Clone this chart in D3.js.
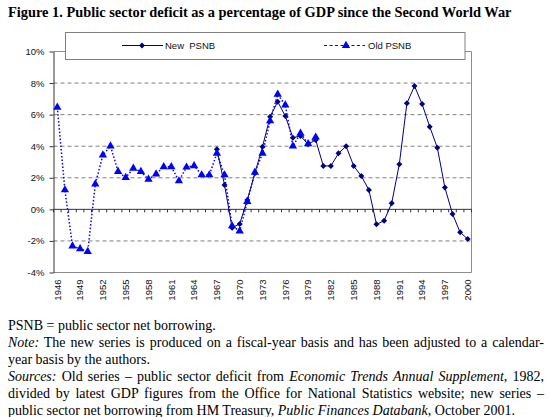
<!DOCTYPE html>
<html>
<head>
<meta charset="utf-8">
<script src="https://d3js.org/d3.v7.min.js"></script>
<style>
  body { margin: 0; background: #fff; }
  .chart text { font-family: "Liberation Sans", Arial, sans-serif; font-size: 9.5px; fill: #111; }
  .serif { font-family: "Liberation Serif", "Times New Roman", serif; fill: #000; }
</style>
</head>
<body>
<svg width="550" height="417"></svg>
<script>
// years 1946..2000
var years = d3.range(1946, 2001);
// old series (triangles), 1946-1980
var oldYears = d3.range(1946, 1981);
var oldPSNB = [6.47, 1.23, -2.32, -2.5, -2.68, 1.6, 3.44, 4.01, 2.39, 2.01,
  2.6, 2.39, 1.9, 2.24, 2.7, 2.7, 1.8, 2.67, 2.76, 2.18,
  2.18, 3.55, 2.18, -1.05, -1.37, 0.49, 2.35, 3.55, 5.6, 7.29,
  6.61, 4.01, 4.82, 4.15, 4.57];
// new series (diamonds), 1967-2000
var newYears = d3.range(1967, 2001);
var newPSNB = [3.8, 1.55, -1.16, -0.92, 0.6, 2.29, 3.97, 5.87, 6.82, 5.91,
  4.54, 4.65, 4.12, 4.4, 2.75, 2.75, 3.55, 4.0, 2.75, 2.11,
  1.23, -0.95, -0.72, 0.39, 2.86, 6.72, 7.81, 6.67, 5.24, 3.91,
  1.38, -0.29, -1.45, -1.88];
var yTicks = [-4, -2, 0, 2, 4, 6, 8, 10];
var gridValues = [-2, 2, 4, 6, 8];
var xLabels = years.filter(function(d) { return (d - 1946) % 3 == 0; });

var title = "Figure 1. Public sector deficit as a percentage of GDP since the Second World War";
var notes = [
  [["PSNB = public sector net borrowing.", false]],
  [["Note:", true], [" The new series is produced on a fiscal-year basis and has been adjusted to a calendar-", false]],
  [["year basis by the authors.", false]],
  [["Sources:", true], [" Old series \u2013 public sector deficit from ", false], ["Economic Trends Annual Supplement", true], [", 1982,", false]],
  [["divided by latest GDP figures from the Office for National Statistics website; new series \u2013", false]],
  [["public sector net borrowing from HM Treasury, ", false], ["Public Finances Databank", true], [", October 2001.", false]]
];
var justified = [false, true, false, true, true, false];

var svg = d3.select("svg");

var x = d3.scaleBand().domain(years).range([53.5, 471.5]);
var y = d3.scaleLinear().domain([-4, 10]).range([272.5, 51.5]);
var cx = function(d) { return x(d) + x.bandwidth() / 2; };

var chart = svg.append("g").attr("class", "chart");

// gridlines
chart.selectAll(".grid").data(gridValues).enter().append("line")
  .attr("x1", 53.5).attr("x2", 471.5)
  .attr("y1", function(d) { return y(d); }).attr("y2", function(d) { return y(d); })
  .attr("stroke", "#808080").attr("stroke-dasharray", "4,3").attr("stroke-width", 1);

// plot border (top, right, bottom)
chart.append("path")
  .attr("d", "M53.5," + y(10) + "H471.5V" + y(-4) + "H53.5")
  .attr("fill", "none").attr("stroke", "#8c8c8c").attr("stroke-width", 1);

// y axis
var yAxis = chart.append("g").attr("transform", "translate(53.5,0)")
  .call(d3.axisLeft(y).tickValues(yTicks).tickSize(4).tickSizeOuter(0).tickPadding(5)
    .tickFormat(function(d) { return d + "%"; }));
yAxis.selectAll("path, line").attr("stroke", "#333");
yAxis.selectAll("text").style("font-family", "Liberation Sans, Arial, sans-serif").style("font-size", "9.5px");

// zero category axis with ticks at category boundaries
chart.append("line").attr("x1", 53.5).attr("x2", 471.5).attr("y1", y(0)).attr("y2", y(0))
  .attr("stroke", "#333");
chart.selectAll(".ctick").data(years.concat([2001])).enter().append("line")
  .attr("x1", function(d) { return d == 2001 ? x.range()[1] : x(d); })
  .attr("x2", function(d) { return d == 2001 ? x.range()[1] : x(d); })
  .attr("y1", y(0)).attr("y2", y(0) + 3).attr("stroke", "#333");

// x labels
var xAxis = chart.append("g").attr("transform", "translate(0," + y(-4) + ")")
  .call(d3.axisBottom(x).tickValues(xLabels).tickSize(0));
xAxis.select(".domain").remove();
xAxis.selectAll("text")
  .attr("transform", "rotate(-90)")
  .attr("x", -7).attr("y", 0).attr("dy", "0.35em")
  .style("text-anchor", "end")
  .style("font-family", "Liberation Sans, Arial, sans-serif").style("font-size", "9.5px");

// new series
var newData = newYears.map(function(d, i) { return [d, newPSNB[i]]; });
var oldData = oldYears.map(function(d, i) { return [d, oldPSNB[i]]; });
var line = d3.line().x(function(d) { return cx(d[0]); }).y(function(d) { return y(d[1]); });

chart.append("path").datum(newData).attr("d", line)
  .attr("fill", "none").attr("stroke", "#000080").attr("stroke-width", 1);
var diamond = d3.symbol().type(d3.symbolSquare).size(18);
chart.selectAll(".dia").data(newData).enter().append("path")
  .attr("d", diamond)
  .attr("transform", function(d) { return "translate(" + cx(d[0]) + "," + y(d[1]) + ") rotate(45)"; })
  .attr("fill", "#000080");

// old series
chart.append("path").datum(oldData).attr("d", line)
  .attr("fill", "none").attr("stroke", "#0000ff").attr("stroke-width", 1.5)
  .attr("stroke-dasharray", "1.5,2");
var tri = d3.symbol().type(d3.symbolTriangle).size(30);
chart.selectAll(".tri").data(oldData).enter().append("path")
  .attr("d", tri)
  .attr("transform", function(d) { return "translate(" + cx(d[0]) + "," + y(d[1]) + ")"; })
  .attr("fill", "#0000ff");

// legend
var lg = chart.append("g");
lg.append("rect").attr("x", 65.5).attr("y", 32.5).attr("width", 399.5).attr("height", 27)
  .attr("fill", "#fff").attr("stroke", "#808080");
lg.append("line").attr("x1", 122).attr("x2", 163).attr("y1", 45.5).attr("y2", 45.5)
  .attr("stroke", "#000080");
lg.append("path").attr("d", diamond).attr("transform", "translate(142,45.5) rotate(45)").attr("fill", "#000080");
lg.append("text").attr("x", 165).attr("y", 49).text("New\u00a0\u00a0PSNB");
lg.append("line").attr("x1", 324).attr("x2", 365).attr("y1", 45.5).attr("y2", 45.5)
  .attr("stroke", "#0000ff").attr("stroke-width", 1.2).attr("stroke-dasharray", "3,2.5");
lg.append("path").attr("d", tri).attr("transform", "translate(346,45.5)").attr("fill", "#0000ff");
lg.append("text").attr("x", 368).attr("y", 49).text("Old PSNB");

// title
svg.append("text").attr("class", "serif").attr("x", 8).attr("y", 17)
  .style("font-weight", "bold").style("font-size", "14.4px").text(title);

// notes
var lineY = d3.scaleLinear().domain([0, 5]).range([330, 415]);
notes.forEach(function(segs, i) {
  var t = svg.append("text").attr("class", "serif").attr("x", 8).attr("y", lineY(i))
    .style("font-size", "14px").attr("xml:space", "preserve");
  segs.forEach(function(s) {
    t.append("tspan").style("font-style", s[1] ? "italic" : "normal").text(s[0]);
  });
  if (justified[i]) {
    var len = t.node().getComputedTextLength();
    var full = segs.map(function(s) { return s[0]; }).join("");
    var spaces = full.split(" ").length - 1;
    t.style("word-spacing", ((544 - 8 - len) / spaces) + "px");
  }
});
</script>
</body>
</html>
